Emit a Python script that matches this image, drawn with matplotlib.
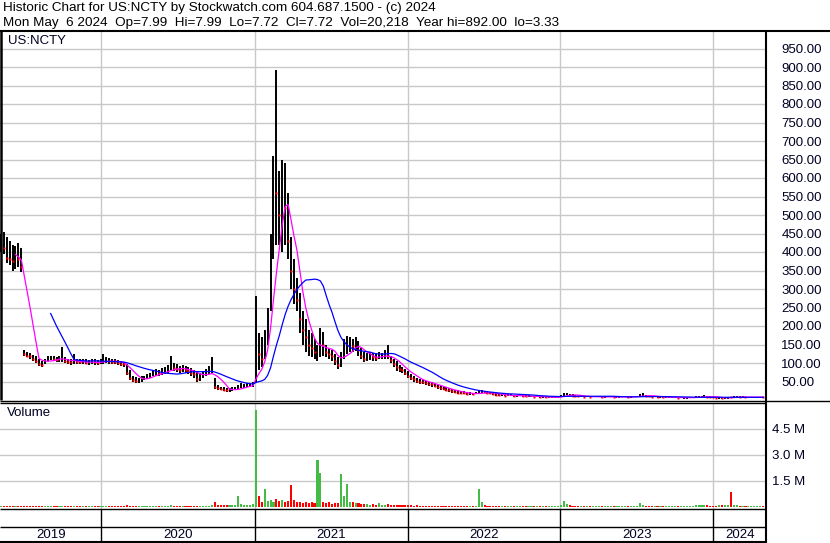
import matplotlib
matplotlib.use('Agg')
import matplotlib.pyplot as plt
from matplotlib.lines import Line2D
import pandas as pd
import numpy as np

plt.rcParams['font.family'] = ['Liberation Sans', 'DejaVu Sans']

# ---------------- data (weekly) ----------------
start_date = '2019-05-06'

hi = [450,455,440,430,420,415,425,410,135,130,
      128,122,118,110,105,112,118,120,118,116,
      118,142,115,112,110,124,112,110,112,110,
      108,112,110,108,112,124,115,113,112,110,
      108,106,104,98,80,65,62,60,64,66,
      70,74,80,85,80,86,90,95,119,100,
      96,92,95,92,90,86,82,75,72,78,
      85,92,115,60,40,36,34,32,32,34,
      36,40,45,44,45,46,48,280,180,170,
      190,250,450,660,892,620,650,640,560,440,
      380,330,290,240,220,190,180,165,150,195,
      185,150,140,135,125,115,130,165,172,170,
      165,170,160,140,130,128,130,128,126,130,
      128,135,150,118,112,105,95,90,84,78,
      70,64,60,56,54,52,50,48,44,40,
      38,36,34,32,30,28,26,24,23,22,
      21,20,22,25,26,25,24,22,20,18,
      17,16,16,15,15,14,14,15,14,13,
      13,12,12,11,11,10,10,9,9,10,
      10,14,20,19,17,15,13,12,12,11,
      11,10,10,11,11,10,10,10,11,10,
      10,10,11,11,10,10,11,12,17,18,
      14,12,11,11,10,10,9,9,9,9,
      9,8,8,8,8,9,9,10,10,12,
      13,12,10,9,8,8,7,7,9,9,
      10,11,10,10,9,9,9,9,9,9,
      7.99]

lo = [400,395,370,365,350,355,360,345,118,115,
      112,105,100,92,88,98,105,108,105,104,
      102,104,100,98,95,98,98,96,98,96,
      94,96,95,94,96,98,100,98,97,96,
      95,92,90,68,55,48,45,47,50,54,
      56,60,64,66,66,68,70,74,80,78,
      76,74,75,72,70,66,60,50,52,60,
      66,70,72,30,28,26,24,22,22,24,
      26,30,32,32,34,34,36,45,80,90,
      110,150,240,380,420,420,400,420,380,300,
      260,240,180,150,130,120,115,110,105,115,
      120,115,110,105,95,85,90,110,125,130,
      130,132,120,110,102,105,108,106,105,110,
      112,112,110,100,90,78,75,72,68,60,
      55,50,46,44,42,40,38,36,34,30,
      28,26,24,22,20,18,17,16,15,14,
      14,14,15,17,18,18,16,15,13,12,
      11,11,10,10,10,9,9,10,9,9,
      8,8,7,7,6,6,5,5,5,5,
      6,8,12,13,12,10,9,8,8,7,
      7,7,7,7,7,6,6,7,7,7,
      6,6,7,7,6,6,7,8,10,11,
      9,8,7,7,6,6,6,5,5,5,
      5,5,5,4,4,5,5,6,6,7,
      8,7,6,5,5,4,4,3.5,4,5,
      6,6,6,6,5,5,6,6,6,6,
      7.72]

cl = [420,410,385,380,375,390,380,360,125,120,
      118,110,105,98,95,108,112,115,110,108,
      110,112,106,104,102,105,104,102,104,100,
      100,104,102,100,104,106,108,106,104,102,
      100,98,96,72,60,55,52,55,58,60,
      64,68,72,74,72,76,80,84,90,86,
      84,82,85,80,78,74,70,58,62,70,
      76,80,85,35,32,30,28,26,26,28,
      30,34,38,38,40,40,42,140,125,110,
      160,230,400,600,560,500,560,520,430,350,
      300,270,220,190,170,150,140,130,140,160,
      150,130,125,118,105,95,110,140,150,150,
      145,150,135,120,112,115,118,116,114,118,
      120,125,118,108,98,88,84,80,74,66,
      60,56,52,50,48,46,44,42,38,35,
      32,30,28,26,24,22,20,19,18,17,
      17,16,17,20,22,21,19,18,16,14,
      13,13,12,12,12,11,11,12,11,10,
      10,10,9,9,8,8,7,7,7,7,
      8,12,16,16,14,12,11,10,10,9,
      9,8,8,9,9,8,8,8,9,8,
      8,8,9,9,8,8,9,10,14,14,
      11,10,9,9,8,8,7,7,7,7,
      7,6,6,6,6,7,7,8,8,10,
      11,9,8,7,6,6,5,5,8,7,
      8,9,8,8,7,7,8,8,8,8,
      7.72]

# volume in millions
vol = [0.03,0.04,0.03,0.05,0.03,0.04,0.03,0.03,0.06,0.04,0.03,0.04,0.03,0.05,0.03,0.04,0.03,0.03,0.04,0.03,
       0.03,0.05,0.03,0.03,0.04,0.03,0.03,0.04,0.03,0.03,0.03,0.04,0.03,0.03,0.04,0.05,0.03,0.04,0.03,0.03,
       0.03,0.04,0.05,0.08,0.06,0.05,0.04,0.04,0.05,0.04,0.04,0.05,0.04,0.06,0.05,0.04,0.05,0.06,0.10,0.06,
       0.05,0.05,0.06,0.05,0.05,0.04,0.05,0.06,0.05,0.05,0.06,0.07,0.12,0.25,0.12,0.10,0.08,0.08,0.10,0.12,
       0.10,0.65,0.15,0.12,0.10,0.12,0.18,
       5.6,0.65,0.3,1.0,0.35,0.4,0.3,0.45,0.35,0.4,0.3,0.35,1.23,
       0.4,0.3,0.25,0.2,0.3,0.2,0.25,0.2,2.73,1.94,0.3,0.2,0.25,0.15,0.2,0.2,1.92,0.65,1.33,0.3,0.25,0.2,
       0.2,0.15,0.18,0.15,0.12,0.15,0.12,0.2,0.12,0.1,0.15,0.12,0.1,0.1,0.12,0.08,0.1,0.08,
       0.08,0.07,0.08,0.06,0.07,0.06,0.06,0.07,0.06,0.05,0.06,0.05,0.06,0.05,0.05,0.06,0.05,0.05,0.06,0.05,0.05,0.06,0.05,
       1.04,0.25,0.08,
       0.06,0.05,0.05,0.06,0.05,0.05,0.04,0.05,0.05,0.04,0.05,0.05,0.04,0.05,0.04,0.05,0.05,0.04,0.04,0.05,0.04,0.05,0.04,0.05,0.05,
       0.08,0.35,0.15,0.08,0.06,
       0.05,0.05,0.04,0.05,0.05,0.04,0.05,0.04,0.05,0.05,0.04,0.05,0.05,0.04,0.05,0.06,0.05,0.04,0.05,0.05,0.06,0.07,
       0.2,0.12,0.06,
       0.05,0.05,0.04,0.05,0.05,0.04,0.05,0.05,0.04,0.06,0.05,0.05,0.04,0.05,0.06,0.05,0.08,0.1,0.12,0.1,0.08,0.06,0.06,0.05,0.1,0.08,0.1,0.12,
       0.88,
       0.1,0.08,0.06,0.05,0.05,0.06,0.05,0.05,0.06,0.05,0.04]

year_labels = ['2019', '2020', '2021', '2022', '2023', '2024']
year_starts = ['2020-01-01', '2021-01-01', '2022-01-01', '2023-01-01', '2024-01-01']
price_ticks = list(range(50, 1000, 50))
vol_ticks = [1.5, 3.0, 4.5]

header1 = 'Historic Chart for US:NCTY by Stockwatch.com 604.687.1500 - (c) 2024'
header2 = 'Mon May  6 2024  Op=7.99  Hi=7.99  Lo=7.72  Cl=7.72  Vol=20,218  Year hi=892.00  lo=3.33'

# ---------------- build ----------------
n = min(len(hi), len(lo), len(cl), len(vol))
hi, lo, cl, vol = hi[:n], lo[:n], cl[:n], vol[:n]
dates = pd.date_range(start_date, periods=n, freq='7D')
close = pd.Series(cl, index=dates)
ma_short = close.rolling(6).mean()
ma_long = close.rolling(18).mean()
up = np.r_[True, np.diff(cl) >= 0]

W, H = 830, 543
fig = plt.figure(figsize=(W / 100, H / 100), dpi=100)


def rect(x0, y0, x1, y1):
    return [x0 / W, 1 - y1 / H, (x1 - x0) / W, (y1 - y0) / H]


def ftext(px, py, s, **kw):
    fig.text(px / W, 1 - py / H, s, **kw)


def fline(x0, y0, x1, y1, lw=1.0):
    fig.add_artist(Line2D([x0 / W, x1 / W], [1 - y0 / H, 1 - y1 / H],
                          color='black', lw=lw, solid_capstyle='butt'))


narrow = ['Liberation Sans Narrow', 'Liberation Sans', 'DejaVu Sans']
xmin = pd.Timestamp('2019-05-04')
xmax = pd.Timestamp('2024-05-06')
ybounds = pd.to_datetime(year_starts)
grid_c = '#c8c8c8'
txt_c = '#000022'

axp = fig.add_axes(rect(0, 30, 766, 400))
axv = fig.add_axes(rect(0, 403, 766, 508.5))
axd = fig.add_axes(rect(0, 508.5, 766, 542))
for ax in (axp, axv, axd):
    ax.set_xlim(xmin, xmax)
    for s in ax.spines.values():
        s.set_visible(False)

# price panel
axp.set_ylim(0, 1000)
axp.set_yticks(price_ticks)
axp.set_yticklabels([f'{t:.2f}' for t in price_ticks], family=narrow,
                    fontsize=9.5, color=txt_c)
axp.set_xticks(ybounds)
axp.grid(True, color=grid_c, lw=1)
axp.set_axisbelow(True)
axp.yaxis.tick_right()
axp.tick_params(axis='y', length=0, pad=11)
axp.tick_params(axis='x', length=0, labelbottom=False)
axp.vlines(dates, lo, hi, color='black', lw=1.4, zorder=3)
dn = ~up
axp.plot(dates[dn], np.array(cl)[dn], ls='none', marker='s', ms=2.0,
         color='red', mec='none', zorder=4)
axp.plot(dates, ma_short, color='#ff00ff', lw=0.9, zorder=5)
axp.plot(dates, ma_long, color='#0000ff', lw=0.9, zorder=5)

# volume panel
axv.set_ylim(-0.1, 6.0)
axv.set_yticks(vol_ticks)
axv.set_yticklabels([f'{t:.1f} M' for t in vol_ticks], family=narrow,
                    fontsize=9.5, color=txt_c)
axv.set_xticks(ybounds)
axv.grid(True, color=grid_c, lw=1)
axv.set_axisbelow(True)
axv.yaxis.tick_right()
axv.tick_params(axis='y', length=0, pad=4)
axv.tick_params(axis='x', length=0, labelbottom=False)
colors = ['#44bb44' if u else '#ff0000' for u in up]
axv.bar(dates, vol, width=5, color=colors, lw=0, zorder=3)

# date rows
axd.set_ylim(0, 1)
axd.set_xticks([])
axd.set_yticks([])
for b in ybounds:
    axd.axvline(b, color='black', lw=1)
edges = [xmin] + list(ybounds) + [xmax]
for i, lab in enumerate(year_labels):
    mid = edges[i] + (edges[i + 1] - edges[i]) / 2
    axd.text(mid, (542 - 535) / 33.5, lab, ha='center', va='center',
             fontsize=9.5, color=txt_c)

# frame lines
fline(0, 30.5, W, 30.5, lw=1.5)
fline(0, 400.5, W, 400.5, lw=1.0)
fline(0, 403, 766, 403, lw=1.0)
fline(0, 508.5, 766, 508.5, lw=1.0)
fline(0, 527, 766, 527, lw=1.0)
fline(0, 542, 766, 542, lw=1.5)
fline(766, 30, 766, 543, lw=1.5)
fline(1, 30, 1, 400, lw=1.8)

# texts
ftext(3, 8.5, header1, fontsize=9.7, va='center', ha='left')
ftext(3, 23, header2, fontsize=9.7, va='center', ha='left')
ftext(8, 41.5, 'US:NCTY', fontsize=9.5, va='center', ha='left', color=txt_c)
ftext(7, 413.5, 'Volume', fontsize=9.5, va='center', ha='left', color=txt_c)

fig.savefig('out.png', dpi=100)
